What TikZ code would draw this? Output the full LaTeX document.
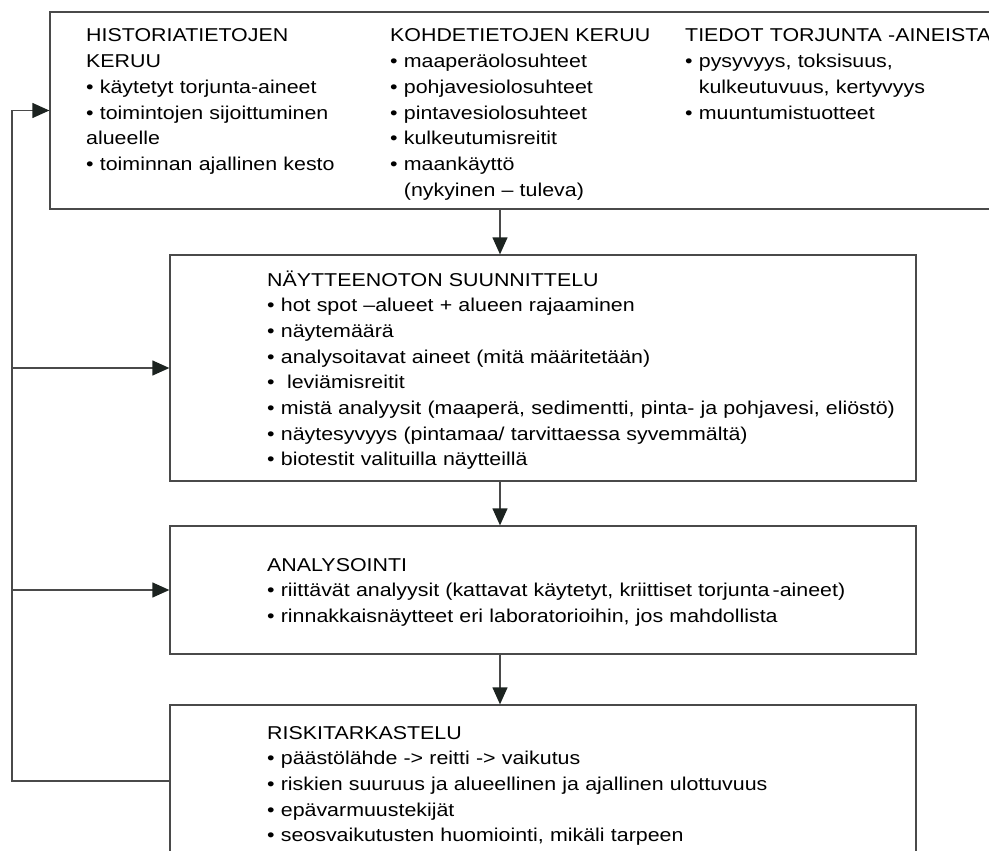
\documentclass[tikz,border=0pt]{standalone}
\usepackage{fontspec}
\setmainfont{Liberation Sans}[FakeStretch=1.15]
\usetikzlibrary{positioning,arrows.meta,calc}
\definecolor{linegray}{HTML}{4A4A4A}
\definecolor{tipblack}{HTML}{1C2320}
\tikzset{
  stagebox/.style={draw=linegray,line width=1.3pt,fill=white,inner sep=0pt},
  txtcol/.style={anchor=base west,align=left,inner sep=0pt,text width=#1,
    font=\fontsize{18.6}{25.7}\selectfont},
  txtcol/.default=300pt,
  flow/.style={-{Triangle[length=17pt,width=15pt,color=tipblack]},
    draw=linegray,line width=1.3pt},
}
\begin{document}
\begin{tikzpicture}[x=1pt,y=-1pt]
  \clip (0,0) rectangle (989,851);
  % stages
  \node[stagebox,minimum width=960pt,minimum height=197pt] (hist) at (530,110.5) {};
  \node[stagebox,minimum width=746pt,minimum height=226pt] (plan) at (543,368) {};
  \node[stagebox,minimum width=746pt,minimum height=128pt] (anal) at (543,590) {};
  \node[stagebox,minimum width=746pt,minimum height=180pt] (risk) at (543,795) {};
  % texts
  \node[txtcol] (histtxt) at (86,42) {HISTORIATIETOJEN\\KERUU\\• käytetyt torjunta-aineet\\
    • toimintojen sijoittuminen\\alueelle\\• toiminnan ajallinen kesto};
  \node[txtcol] (kohdetxt) at (390,42) {KOHDETIETOJEN KERUU\\• maaperäolosuhteet\\
    • pohjavesiolosuhteet\\• pintavesiolosuhteet\\• kulkeutumisreitit\\• maankäyttö\\
    \phantom{• }(nykyinen – tuleva)};
  \node[txtcol=320pt] (aintxt) at (685,42) {TIEDOT TORJUNTA -AINEISTA\\• pysyvyys, toksisuus,\\
    \phantom{• }kulkeutuvuus, kertyvyys\\• muuntumistuotteet};
  \node[txtcol=640pt] (plantxt) at (267,286) {NÄYTTEENOTON SUUNNITTELU\\
    • hot spot –alueet + alueen rajaaminen\\• näytemäärä\\
    • analysoitavat aineet (mitä määritetään)\\•\ \ leviämisreitit\\
    • mistä analyysit (maaperä, sedimentti, pinta- ja pohjavesi, eliöstö)\\
    • näytesyvyys (pintamaa/ tarvittaessa syvemmältä)\\• biotestit valituilla näytteillä};
  \node[txtcol=640pt] (analtxt) at (267,571) {ANALYSOINTI\\
    • riittävät analyysit (kattavat käytetyt, kriittiset torjunta\,-aineet)\\
    • rinnakkaisnäytteet eri laboratorioihin, jos mahdollista};
  \node[txtcol=640pt] (risktxt) at (267,739) {RISKITARKASTELU\\
    • päästölähde -> reitti -> vaikutus\\
    • riskien suuruus ja alueellinen ja ajallinen ulottuvuus\\
    • epävarmuustekijät\\• seosvaikutusten huomiointi, mikäli tarpeen};
  % main flow
  \coordinate (mid) at (500,0);
  \draw[flow] (hist.south -| mid) -- (plan.north -| mid);
  \draw[flow] (plan.south -| mid) -- (anal.north -| mid);
  \draw[flow] (anal.south -| mid) -- (risk.north -| mid);
  % feedback
  \coordinate (back) at (12,781);
  \draw[flow] (risk.west |- back) -- (back) |- (hist.west);
  \draw[flow] (back |- plan.west) -- (plan.west);
  \draw[flow] (back |- anal.west) -- (anal.west);
\end{tikzpicture}
\end{document}
